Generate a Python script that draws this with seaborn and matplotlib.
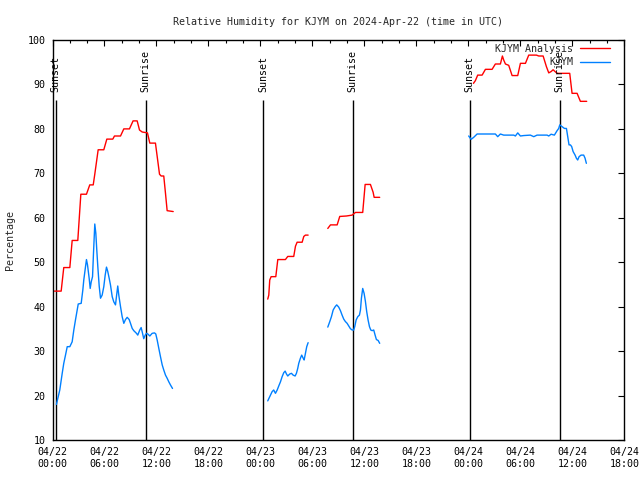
import pandas as pd
import matplotlib
matplotlib.use("Agg")
import matplotlib.pyplot as plt
import matplotlib.dates as mdates
from matplotlib.lines import Line2D
import seaborn as sns

# ---------------- data ----------------
start = pd.Timestamp("2024-04-22 00:00")
span_hours = 66

# KJYM Analysis (hours after 04/22 00:00 UTC, relative humidity %)
analysis_hours_1 = [0.23, 1.0, 1.3, 2.0, 2.27, 2.92, 3.27, 3.92, 4.3, 4.7, 4.88, 5.27, 5.92,
                    6.27, 6.96, 7.15, 7.85, 8.23, 8.88, 9.3, 9.77, 10.04, 10.35, 10.96,
                    11.23, 11.88, 12.35, 12.54, 12.84, 13.04, 13.23, 13.93]
analysis_rh_1 = [43.5, 43.5, 48.8, 48.8, 54.9, 54.9, 65.3, 65.3, 67.4, 67.4, 69.8, 75.3, 75.3,
                 77.7, 77.7, 78.4, 78.4, 80.0, 80.0, 81.8, 81.8, 79.75, 79.3, 79.1,
                 76.8, 76.8, 69.8, 69.4, 69.4, 65.5, 61.6, 61.4]

analysis_hours_2 = [24.84, 24.96, 25.07, 25.23, 25.77, 26.0, 26.88, 27.15, 27.84, 28.04, 28.23,
                    28.81, 29.0, 29.19, 29.5]
analysis_rh_2 = [41.7, 42.6, 46.0, 46.75, 46.75, 50.6, 50.6, 51.3, 51.3, 53.6, 54.5,
                 54.5, 55.8, 56.1, 56.1]

analysis_hours_3a = [31.77, 32.08, 32.85, 33.15, 33.92, 34.58, 34.96, 35.8, 36.08, 36.69,
                     37.0, 37.12, 37.76]
analysis_rh_3a = [57.6, 58.4, 58.4, 60.3, 60.4, 60.6, 61.2, 61.2, 67.5, 67.5,
                  65.75, 64.6, 64.6]

analysis_hours_4 = [48.58, 48.8, 49.07, 49.58, 49.96, 50.73, 51.11, 51.69, 51.92, 52.07, 52.27,
                    52.65, 53.04, 53.69, 54.0, 54.58, 54.96, 55.85, 56.11, 56.62, 57.0, 57.27,
                    57.54, 57.77, 58.23, 59.69, 59.96, 60.54, 60.92, 61.65]
analysis_rh_4 = [90.25, 90.85, 92.1, 92.1, 93.4, 93.4, 94.6, 94.6, 96.4, 95.5, 94.6,
                 94.3, 92.0, 92.0, 94.75, 94.75, 96.6, 96.6, 96.4, 96.4, 94.0, 92.6,
                 92.9, 93.3, 92.5, 92.5, 88.0, 88.0, 86.2, 86.2]

# KJYM observations
obs_hours_1 = [0.45, 0.84, 1.12, 1.30, 1.50, 1.70, 2.0, 2.27, 2.46, 2.65, 2.85, 2.97, 3.31,
               3.50, 3.61, 3.81, 3.92, 4.04, 4.23, 4.35, 4.47, 4.62, 4.73, 4.88, 5.0, 5.11,
               5.23, 5.39, 5.54, 5.73, 5.92, 6.08, 6.23, 6.38, 6.54, 6.69, 6.89, 7.07, 7.27,
               7.38, 7.53, 7.65, 7.85, 8.04, 8.23, 8.42, 8.62, 8.85, 9.0, 9.20, 9.38, 9.69,
               9.84, 10.07, 10.23, 10.38, 10.53, 10.70, 10.85, 11.0, 11.23, 11.5, 11.77,
               11.92, 12.08, 12.27, 12.46, 12.66, 12.84, 13.04, 13.23, 13.42, 13.61, 13.85]
obs_rh_1 = [18.0, 21.25, 25.0, 27.25, 29.1, 31.0, 31.0, 32.1, 34.75, 37.0, 39.25, 40.6, 40.75,
            43.75, 46.0, 49.0, 50.6, 49.4, 46.4, 44.1, 45.6, 46.75, 52.0, 58.6, 56.5, 52.75,
            49.0, 44.6, 41.9, 42.6, 44.5, 47.1, 48.9, 47.9, 46.4, 44.9, 42.25, 41.1, 40.4,
            42.25, 44.65, 42.6, 40.0, 37.75, 36.25, 37.1, 37.6, 37.1, 36.25, 35.1, 34.6, 34.0,
            33.6, 34.75, 35.3, 34.1, 32.8, 33.6, 34.0, 33.85, 33.4, 34.0, 34.1,
            33.85, 32.5, 30.6, 28.75, 26.9, 25.75, 24.6, 23.9, 23.1, 22.4, 21.6]

obs_hours_2 = [24.84, 25.07, 25.35, 25.53, 25.73, 25.93, 26.11, 26.31, 26.5, 26.69, 26.85,
               27.0, 27.15, 27.38, 27.58, 27.77, 28.0, 28.15, 28.3, 28.42, 28.61, 28.76,
               28.93, 29.04, 29.19, 29.34, 29.5]
obs_rh_2 = [18.8, 19.75, 20.9, 21.25, 20.5, 21.25, 22.15, 23.1, 24.25, 25.15, 25.5,
            24.85, 24.4, 24.85, 25.0, 24.6, 24.4, 25.0, 26.1, 27.25, 28.4, 29.1,
            28.4, 28.0, 29.5, 31.0, 31.9]

obs_hours_3 = [31.77, 32.0, 32.19, 32.39, 32.62, 32.8, 33.03, 33.23, 33.42, 33.61, 33.8, 34.0,
               34.19, 34.38, 34.58, 34.76, 34.88, 35.04, 35.23, 35.42, 35.54, 35.65, 35.8,
               35.96, 36.11, 36.26, 36.42, 36.58, 36.73, 36.89, 37.07, 37.23, 37.38, 37.58,
               37.76]
obs_rh_3 = [35.4, 36.65, 37.75, 39.25, 40.0, 40.4, 39.9, 39.1, 38.1, 37.2, 36.65, 36.25,
            35.65, 35.05, 34.75, 34.75, 35.5, 37.0, 37.75, 38.1, 39.25, 41.9, 44.1,
            43.0, 41.2, 38.9, 37.0, 35.5, 34.75, 34.6, 34.75, 33.6, 32.6, 32.4,
            31.75]

obs_hours_4 = [48.03, 48.31, 48.61, 49.0, 51.11, 51.38, 51.69, 52.07, 53.23, 53.42, 53.69,
               54.0, 54.38, 55.15, 55.54, 55.92, 57.08, 57.27, 57.54, 57.92, 58.23, 58.42,
               58.54, 58.81, 59.08, 59.31, 59.46, 59.61, 59.77, 59.92, 60.08, 60.31, 60.46,
               60.61, 60.77, 61.0, 61.3, 61.46, 61.61]
obs_rh_4 = [78.4, 77.65, 78.1, 78.85, 78.85, 78.25, 78.85, 78.6, 78.6, 78.4, 79.1,
            78.4, 78.5, 78.6, 78.25, 78.6, 78.6, 78.4, 78.8, 78.6, 79.6, 80.1,
            80.9, 80.5, 80.1, 80.1, 78.25, 76.4, 76.4, 76.0, 74.9, 74.1, 73.4,
            73.0, 73.75, 74.1, 74.1, 73.4, 72.25]

# Sun events
event_hours = [0.38, 10.77, 24.29, 34.65, 48.15, 58.53]
event_labels = ["Sunset", "Sunrise", "Sunset", "Sunrise", "Sunset", "Sunrise"]

series_names = ["KJYM Analysis", "KJYM"]
series_colors = {"KJYM Analysis": "#ff0000", "KJYM": "#0080ff"}

# ---------------- build table ----------------
def to_time(hours):
    return start + pd.to_timedelta(hours, unit="h")

pieces = [
    ("KJYM Analysis", "a1", analysis_hours_1, analysis_rh_1),
    ("KJYM Analysis", "a2", analysis_hours_2, analysis_rh_2),
    ("KJYM Analysis", "a3", analysis_hours_3a, analysis_rh_3a),
    ("KJYM Analysis", "a4", analysis_hours_4, analysis_rh_4),
    ("KJYM", "o1", obs_hours_1, obs_rh_1),
    ("KJYM", "o2", obs_hours_2, obs_rh_2),
    ("KJYM", "o3", obs_hours_3, obs_rh_3),
    ("KJYM", "o4", obs_hours_4, obs_rh_4),
]
frames = []
for name, seg, hrs, vals in pieces:
    frames.append(pd.DataFrame({"time": to_time(hrs), "rh": vals,
                                "series": name, "segment": seg}))
df = pd.concat(frames, ignore_index=True)

# ---------------- plot ----------------
sns.set_style("white")
plt.rcParams["font.family"] = ["DejaVu Sans Mono", "DejaVu Sans"]
plt.rcParams["font.size"] = 7.2

fig = plt.figure(figsize=(6.4, 4.8), dpi=100)
ax = fig.add_axes([52.5 / 640, 40 / 480, (624.4 - 52.5) / 640, 400 / 480])

sns.lineplot(data=df, x="time", y="rh", hue="series", hue_order=series_names,
             units="segment", estimator=None, sort=False, palette=series_colors,
             legend=False, linewidth=1.0, ax=ax)

ev_times = to_time(event_hours)
ax.vlines(ev_times, 10, 86.6, colors="black", linewidth=1.0, zorder=1)
for t, lab in zip(ev_times, event_labels):
    ax.text(t, 88.2, lab, rotation=90, ha="center", va="bottom", fontsize=7.2,
            color="black")

ax.set_xlim(start, start + pd.Timedelta(hours=span_hours))
ax.set_ylim(10, 100)
ax.set_yticks(range(10, 101, 10))
ax.xaxis.set_major_locator(mdates.HourLocator(byhour=[0, 6, 12, 18]))
ax.xaxis.set_minor_locator(mdates.HourLocator(byhour=range(0, 24, 2)))
ax.xaxis.set_major_formatter(mdates.DateFormatter("%m/%d\n%H:%M"))
ax.tick_params(which="both", direction="in", top=True, right=True, colors="black",
               labelsize=7.2, width=0.8)
ax.tick_params(which="major", length=4.5, pad=5)
ax.tick_params(which="minor", length=2.5)
for s in ax.spines.values():
    s.set_color("black")
    s.set_linewidth(1.0)

ax.set_xlabel("")
ax.set_ylabel("Percentage", fontsize=7.2)
ax.yaxis.set_label_coords(-0.066, 0.5)
ax.set_title("Relative Humidity for KJYM on 2024-Apr-22 (time in UTC)",
             fontsize=7.2, pad=11)

handles = [Line2D([], [], color=series_colors[n], linewidth=1.0) for n in series_names]
ax.legend(handles, series_names, loc="upper right", bbox_to_anchor=(0.975, 0.99),
          frameon=False, markerfirst=False, handlelength=3.0, handletextpad=0.7,
          labelspacing=0.35, borderaxespad=0, borderpad=0, fontsize=7.2)

fig.savefig("out.png", dpi=100)
